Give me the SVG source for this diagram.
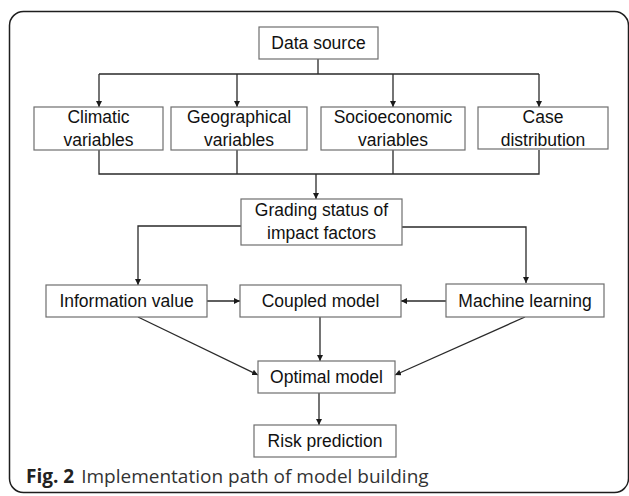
<svg xmlns="http://www.w3.org/2000/svg" width="629" height="496" viewBox="0 0 629 496">
<style>
.box{fill:#fff;stroke:#6e6e6e;stroke-width:1.2}
.lbl{font-family:"Liberation Sans",Arial,sans-serif;font-size:17.5px;fill:#111;text-anchor:middle}
.con{fill:none;stroke:#2a2a2a;stroke-width:1.3}
.cap{font-family:"Open Sans","Noto Sans",sans-serif;font-size:19px;fill:#222}
</style>
<defs>
<marker id="ah" viewBox="0 0 10 10" refX="10" refY="5" markerWidth="6" markerHeight="6" markerUnits="userSpaceOnUse" orient="auto">
<path d="M0,0 L10,5 L0,10 z" fill="#1a1a1a"/>
</marker>
</defs>
<rect x="9.5" y="11.5" width="619" height="481" rx="14" fill="#fff" stroke="#1e1e1e" stroke-width="1.5"/>
<g id="connectors">
<path class="con" d="M318,59 V74 M99,74 H539"/>
<path class="con" d="M99,74 V107" marker-end="url(#ah)"/>
<path class="con" d="M237,74 V107" marker-end="url(#ah)"/>
<path class="con" d="M393,74 V107" marker-end="url(#ah)"/>
<path class="con" d="M539,74 V107" marker-end="url(#ah)"/>
<path class="con" d="M99,150 V174 H539 V150 M237,150 V174 M393,150 V174"/>
<path class="con" d="M316,174 V199" marker-end="url(#ah)"/>
<path class="con" d="M241,226 H138 V285" marker-end="url(#ah)"/>
<path class="con" d="M402,227 H526 V283" marker-end="url(#ah)"/>
<path class="con" d="M207,301 H240" marker-end="url(#ah)"/>
<path class="con" d="M446,301 H401" marker-end="url(#ah)"/>
<path class="con" d="M138,317 L258,375" marker-end="url(#ah)"/>
<path class="con" d="M320,317 V361" marker-end="url(#ah)"/>
<path class="con" d="M525,317 L395,375" marker-end="url(#ah)"/>
<path class="con" d="M319,393 V425" marker-end="url(#ah)"/>
</g>
<g id="data-source"><rect class="box" x="259" y="27" width="119" height="32"/><text class="lbl" x="318.5" y="49">Data source</text></g>
<g id="climatic"><rect class="box" x="34" y="107" width="129" height="43"/><text class="lbl" x="98.5" y="123">Climatic</text><text class="lbl" x="98.5" y="146">variables</text></g>
<g id="geographical"><rect class="box" x="171" y="107" width="136" height="43"/><text class="lbl" x="239" y="123">Geographical</text><text class="lbl" x="239" y="146">variables</text></g>
<g id="socioeconomic"><rect class="box" x="321" y="107" width="144" height="43"/><text class="lbl" x="393" y="123">Socioeconomic</text><text class="lbl" x="393" y="146">variables</text></g>
<g id="case"><rect class="box" x="478" y="107" width="130" height="42"/><text class="lbl" x="543" y="123">Case</text><text class="lbl" x="543" y="146">distribution</text></g>
<g id="grading"><rect class="box" x="241" y="199" width="161" height="46"/><text class="lbl" x="321.5" y="216">Grading status of</text><text class="lbl" x="321.5" y="239">impact factors</text></g>
<g id="info"><rect class="box" x="46" y="285" width="161" height="32"/><text class="lbl" x="126.5" y="307">Information value</text></g>
<g id="coupled"><rect class="box" x="240" y="285" width="161" height="32"/><text class="lbl" x="320.5" y="307">Coupled model</text></g>
<g id="ml"><rect class="box" x="446" y="284" width="158" height="33"/><text class="lbl" x="525" y="307">Machine learning</text></g>
<g id="optimal"><rect class="box" x="258" y="361" width="137" height="32"/><text class="lbl" x="326.5" y="383">Optimal model</text></g>
<g id="risk"><rect class="box" x="254" y="425" width="142" height="32"/><text class="lbl" x="325" y="447">Risk prediction</text></g>
<text class="cap" x="26" y="483"><tspan font-weight="bold">Fig. 2</tspan><tspan dx="7" fill="#333">Implementation path of model building</tspan></text>
</svg>
